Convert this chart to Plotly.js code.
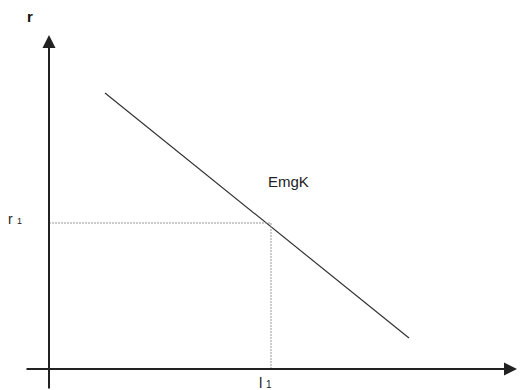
<!DOCTYPE html>
<html>
<head>
<meta charset="utf-8">
<script src="https://cdn.plot.ly/plotly-3.0.1.min.js"></script>
<style>html,body{margin:0;padding:0;background:#fff;}#chart{width:520px;height:390px;}</style>
</head>
<body>
<div id="chart"></div>
<script>
// ---- data ----
const curveX = [56, 360];          // EmgK line end points (x)
const curveY = [276, 31];          // EmgK line end points (y)
const l1 = [222];                  // marked quantity l1
const r1 = [146];                  // marked rate r1
const curveName = "EmgK";
const yAxisName = "r";
const xTickLetter = "l";
const yTickLetter = "r";
const tickIndex = "1";
const xAxisEnd = [-24, 468];       // axis extents
const yAxisEnd = [-21, 334];

const font = "Liberation Sans, Arial, sans-serif";

const traces = [
  { x: curveX, y: curveY, mode: "lines", type: "scatter",
    line: { color: "#333", width: 1.2 }, hoverinfo: "skip", showlegend: false },
  { x: [0, l1[0], l1[0]], y: [r1[0], r1[0], 0], mode: "lines", type: "scatter",
    line: { color: "#999", width: 1, dash: "2px,1px" }, hoverinfo: "skip", showlegend: false }
];

const layout = {
  width: 520, height: 390,
  margin: { l: 0, r: 0, t: 0, b: 0 },
  paper_bgcolor: "#fff", plot_bgcolor: "#fff",
  xaxis: { range: [-49, 471], visible: false, fixedrange: true },
  yaxis: { range: [-21, 369], visible: false, fixedrange: true },
  showlegend: false,
  annotations: [
    { x: xAxisEnd[1], y: 0, ax: xAxisEnd[0], ay: 0, axref: "x", ayref: "y", xref: "x", yref: "y",
      text: "", showarrow: true, arrowhead: 2, arrowsize: 1.3, arrowwidth: 2, arrowcolor: "#222" },
    { x: 0, y: yAxisEnd[1], ax: 0, ay: yAxisEnd[0], axref: "x", ayref: "y", xref: "x", yref: "y",
      text: "", showarrow: true, arrowhead: 2, arrowsize: 1.3, arrowwidth: 2, arrowcolor: "#222" },
    { x: -19.5, y: 353, xref: "x", yref: "y", text: "<b>" + yAxisName + "</b>", showarrow: false,
      font: { family: font, size: 15, color: "#111" }, xanchor: "center", yanchor: "middle" },
    { x: 239, y: 188, xref: "x", yref: "y", text: curveName, showarrow: false,
      font: { family: font, size: 15, color: "#222" }, xanchor: "center", yanchor: "middle" },
    { x: -39, y: 150, xref: "x", yref: "y", text: yTickLetter, showarrow: false,
      font: { family: font, size: 14, color: "#222" }, xanchor: "center", yanchor: "middle" },
    { x: -30, y: 148, xref: "x", yref: "y", text: tickIndex, showarrow: false,
      font: { family: font, size: 9, color: "#222" }, xanchor: "center", yanchor: "middle" },
    { x: l1[0] - 11, y: -13.5, xref: "x", yref: "y", text: xTickLetter, showarrow: false,
      font: { family: font, size: 15, color: "#222" }, xanchor: "center", yanchor: "middle" },
    { x: l1[0] - 2, y: -15.5, xref: "x", yref: "y", text: tickIndex, showarrow: false,
      font: { family: font, size: 10, color: "#222" }, xanchor: "center", yanchor: "middle" }
  ]
};

Plotly.newPlot("chart", traces, layout, { staticPlot: true, displayModeBar: false });
</script>
</body>
</html>
